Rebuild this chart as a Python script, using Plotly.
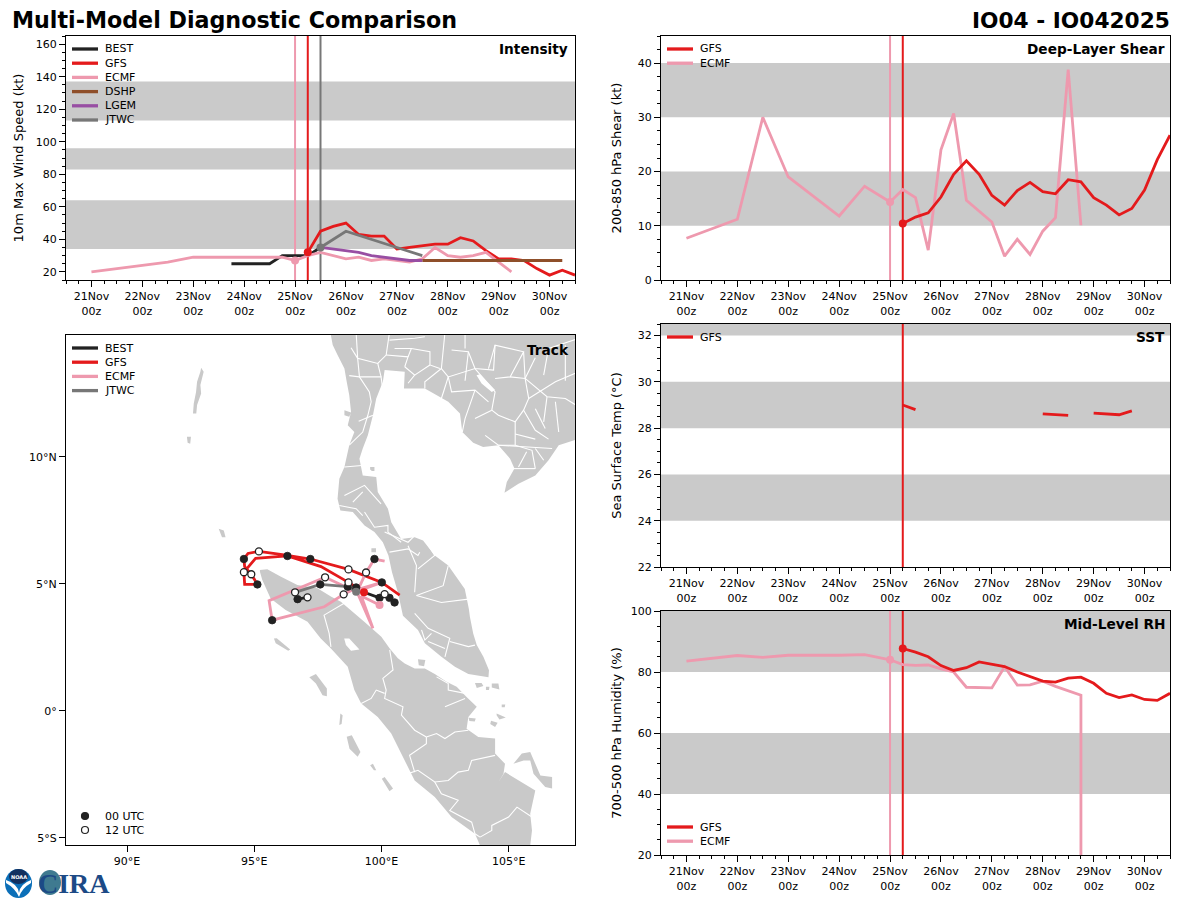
import plotly.graph_objects as go

FONT = "DejaVu Sans"
RED, PINK, BLACK, BROWN, PURPLE, GRAY = "#e41a1c", "#ee99ae", "#222222", "#8f4f2a", "#984ea3", "#777777"
BAND = "#cacaca"
LAND = "#c9c9c9"

# ---------- time axis ----------
days = [21, 22, 23, 24, 25, 26, 27, 28, 29, 30]
day_labels = ["21Nov<br>00z", "22Nov<br>00z", "23Nov<br>00z", "24Nov<br>00z", "25Nov<br>00z",
              "26Nov<br>00z", "27Nov<br>00z", "28Nov<br>00z", "29Nov<br>00z", "30Nov<br>00z"]

# ---------- intensity (kt) ----------
best_t = [23.75, 24, 24.25, 24.5, 24.75, 25, 25.25, 25.5]
best_v = [25, 25, 25, 25, 30, 30, 30, 35]
gfs_t = [25.25, 25.5, 25.75, 26, 26.25, 26.5, 26.75, 27, 27.25, 27.5, 27.75, 28, 28.25, 28.5, 28.75, 29, 29.25, 29.5, 29.75, 30, 30.25, 30.5]
gfs_v = [32, 45, 48, 50, 43, 42, 42, 34, 35, 36, 37, 37, 41, 39, 33, 28, 28, 27, 22, 18, 21, 18]
ecmf_i_t = [21, 22.5, 23, 24, 24.75, 25, 25.25, 25.5, 26, 26.25, 26.5, 26.75, 27.25, 27.5, 27.75, 28, 28.25, 28.5, 28.75, 29, 29.25]
ecmf_i_v = [20, 26, 29, 29, 29, 27, 30, 32, 28, 29, 27, 28, 26, 28, 35, 30, 29, 30, 32, 26, 20]
dshp_t = [27.5, 28, 28.5, 29, 29.5, 30, 30.25]
dshp_v = [27, 27, 27, 27, 27, 27, 27]
lgem_t = [25.5, 26, 26.25, 26.5, 26.75, 27, 27.25, 27.5]
lgem_v = [35, 33, 32, 30, 29, 28, 27, 27]
jtwc_t = [25.5, 26, 27, 27.5]
jtwc_v = [35, 45, 35, 30]
init_ecmf, init_gfs, init_jtwc = 25.0, 25.25, 25.5

# ---------- shear (kt) ----------
shear_ecmf_t = [21, 22, 22.5, 23, 24, 24.5, 25, 25.25, 25.5, 25.75, 26, 26.25, 26.5, 27, 27.25, 27.5, 27.75, 28, 28.25, 28.5, 28.75]
shear_ecmf_v = [7.7, 11.2, 30, 19, 11.8, 17.3, 14.4, 16.7, 15.2, 5.5, 24, 30.7, 14.7, 10.7, 4.4, 7.5, 4.7, 9, 11.5, 38.8, 10.1]
shear_gfs_v = [10.4, 11.6, 12.4, 15.3, 19.5, 22, 19.5, 15.6, 13.8, 16.5, 18, 16.3, 15.9, 18.5, 18.1, 15.2, 13.8, 12, 13.2, 16.6, 22.2, 26.7]

# ---------- SST (deg C), gaps are missing values ----------
sst_t = [25.25, 25.5, 25.75, 28, 28.5, 28.75, 29, 29.5, 29.75]
sst_v = [29.0, 28.8, None, 28.62, 28.55, None, 28.65, 28.58, 28.75]

# ---------- RH (%) ----------
rh_ecmf_t = [21, 22, 22.5, 23, 24, 24.5, 25, 25.25, 25.5, 25.75, 26, 26.25, 26.5, 27, 27.25, 27.5, 27.75, 28, 28.25, 28.5, 28.75, 28.75]
rh_ecmf_v = [83.6, 85.4, 84.8, 85.5, 85.5, 85.7, 84, 82.4, 82.2, 82.3, 81, 80, 75, 74.8, 81.7, 75.7, 75.8, 77, 75.3, 73.9, 72.4, 0]
rh_gfs_v = [87.7, 86.5, 85, 82.1, 80.5, 81.4, 83.3, 82.5, 81.8, 80, 78.5, 77, 76.7, 78, 78.3, 76.3, 73, 71.6, 72.5, 71, 70.7, 73]

# ---------- tracks ----------
track_gfs_lon = [99.31, 98.7, 97.62, 96.3, 95.05, 94.59, 94.62, 95.12, 95.0, 94.88, 94.62, 94.59, 94.75, 95.18, 96.17, 97.2, 98.7, 100.01, 100.71]
track_gfs_lat = [4.67, 5.06, 5.68, 6.1, 6.01, 5.46, 4.98, 4.98, 5.18, 5.38, 5.68, 5.98, 6.2, 6.28, 6.14, 5.98, 5.57, 5.06, 4.56]
track_ecmf_lon = [99.92, 99.2, 99.66, 99.0, 100.01, 99.0, 97.78, 95.58, 95.7, 97.75, 98.51, 99.13, 99.39, 99.72, 100.12]
track_ecmf_lat = [4.17, 4.52, 3.25, 4.76, 5.06, 4.69, 5.26, 4.34, 3.57, 4.1, 4.59, 4.89, 5.45, 5.98, 5.9]
track_jtwc_lon = [99.0, 98.67, 97.59, 96.6]
track_jtwc_lat = [4.69, 4.89, 4.98, 4.67]
track_best_lon = [100.51, 100.31, 100.12, 99.92, 99.31, 99.0, None, 96.7, 97.09]
track_best_lat = [4.27, 4.45, 4.6, 4.45, 4.67, 4.86, None, 4.4, 4.47]
marks00_lon = [100.51, 100.31, 99.92, 99.0, 98.67, 97.59, 96.7, 96.3, 95.12, 94.59, 97.2, 100.01, 95.7, 99.72]
marks00_lat = [4.27, 4.45, 4.45, 4.86, 4.89, 4.98, 4.4, 6.1, 4.98, 5.98, 5.98, 5.06, 3.57, 5.98]
marks12_lon = [100.12, 98.7, 94.59, 94.88, 95.18, 98.7, 97.78, 98.51, 99.39, 96.6, 97.09]
marks12_lat = [4.6, 5.06, 5.46, 5.38, 6.28, 5.57, 5.26, 4.59, 5.45, 4.67, 4.47]

# ---------- map outlines (lon, lat) ----------
mainland = [(97.95, 15.1), (98.08, 14.41), (98.27, 14.01), (98.54, 13.48), (98.63, 12.96), (98.73, 12.43), (98.8, 11.77),
            (98.67, 11.25), (98.93, 10.98), (98.73, 10.46), (98.54, 9.6), (98.34, 9.14), (98.27, 8.35), (98.38, 7.89),
            (98.87, 7.83), (99.33, 7.3), (99.72, 7.04), (100.05, 6.64), (100.27, 6.12), (100.41, 5.46), (100.64, 4.67),
            (100.77, 4.14), (100.84, 3.75), (101.43, 3.19), (101.7, 2.66), (102.35, 2.13), (102.88, 1.74), (103.41, 1.45),
            (104.2, 1.32), (104.22, 1.6), (104.0, 2.13), (103.74, 2.59), (103.6, 3.05), (103.47, 3.71), (103.43, 4.01),
            (103.27, 4.8), (102.62, 5.72), (102.09, 6.12), (101.63, 6.71), (101.3, 6.84), (100.77, 6.77), (100.38, 7.43),
            (100.25, 7.96), (99.85, 8.62), (99.79, 9.21), (99.26, 9.27), (99.13, 9.93), (99.26, 10.33), (99.46, 10.85),
            (99.66, 11.64), (99.79, 12.3), (100.05, 12.96), (100.12, 13.42), (100.91, 13.35), (100.88, 12.69), (101.7, 12.69),
            (102.35, 12.3), (102.62, 12.17), (103.08, 11.71), (103.17, 10.98), (103.6, 10.56), (103.99, 10.39), (104.59, 10.46),
            (105.05, 9.93), (105.22, 9.54), (104.92, 9.01), (104.83, 8.59), (105.38, 8.94), (106.04, 9.27), (106.56, 9.87),
            (106.96, 10.46), (107.75, 10.72), (109.0, 10.72), (109.0, 15.1)]
sumatra = [(95.22, 5.48), (95.22, 5.55), (95.51, 5.58), (96.03, 5.29), (96.69, 4.96), (97.48, 4.83), (98.01, 4.5), (98.4, 4.3),
           (99.32, 3.51), (99.72, 3.18), (99.99, 2.92), (100.32, 2.46), (100.64, 2.07), (100.91, 1.87), (101.3, 1.67), (101.7, 1.67),
           (102.09, 1.45), (102.55, 1.15), (102.95, 0.95), (103.34, 0.55),
           (103.74, 0.16), (103.41, -0.24), (103.34, -0.7), (103.8, -1.03), (104.46, -1.09), (104.46, -1.68), (104.85, -2.08),
           (104.79, -2.47), (104.59, -2.8), (104.85, -2.41), (106.04, -3.13), (105.84, -4.05), (105.91, -4.71), (105.84, -5.3),
           (105.84, -6.16), (103.8, -6.16), (103.87, -5.3), (103.67, -4.84), (102.75, -4.18), (102.09, -3.39), (101.3, -2.74),
           (100.91, -1.95), (100.38, -0.89), (99.85, -0.24), (99.2, 0.29), (98.93, 0.82), (98.67, 1.74), (98.01, 2.46), (97.61, 2.85),
           (97.09, 3.51), (96.23, 3.97), (95.64, 4.43), (95.31, 5.16)]
islands = [
    [(92.91, 13.51), (93.01, 13.35), (92.88, 12.83), (92.91, 12.5), (92.75, 12.04), (92.72, 11.71), (92.59, 11.71), (92.62, 12.1), (92.71, 12.56), (92.75, 12.96), (92.88, 13.35)],
    [(92.35, 10.79), (92.51, 10.79), (92.48, 10.52), (92.38, 10.56)],
    [(93.6, 7.17), (93.8, 7.1), (93.87, 6.84), (93.73, 6.84)],
    [(95.77, 2.85), (95.88, 2.86), (96.41, 2.42), (96.33, 2.37), (95.84, 2.66)],
    [(97.16, 1.32), (97.42, 1.45), (97.85, 0.88), (97.85, 0.58), (97.68, 0.62), (97.42, 1.08)],
    [(98.38, -0.1), (98.47, -0.17), (98.43, -0.52), (98.34, -0.56)],
    [(98.63, -1.02), (98.83, -0.96), (99.17, -1.62), (99.06, -1.81), (98.74, -1.49)],
    [(99.55, -2.14), (99.66, -2.08), (99.79, -2.34), (99.7, -2.34)],
    [(100.01, -2.67), (100.12, -2.6), (100.45, -3.06), (100.31, -3.16)],
    [(105.18, -2.08), (105.51, -1.68), (105.84, -1.62), (106.1, -2.2), (106.24, -2.54), (106.7, -2.6), (106.7, -3.06), (106.43, -3.0), (105.97, -2.47), (105.84, -1.95), (105.58, -1.95)],
    [(104.52, -0.1), (104.88, -0.26), (104.63, -0.34), (104.52, -0.17)],
    [(104.3, -0.39), (104.56, -0.47), (104.46, -0.63), (104.27, -0.52)],
    [(104.33, 1.08), (104.59, 1.08), (104.63, 0.84), (104.33, 0.92)],
    [(103.67, 1.1), (103.93, 1.1), (104.0, 0.98), (103.74, 0.9)],
    [(101.43, 2.03), (101.72, 2.0), (101.67, 1.76), (101.46, 1.8)],
    [(98.54, 11.84), (98.8, 11.75), (98.73, 11.58), (98.54, 11.64)],
    [(103.42, -0.27), (103.7, -0.3), (103.66, -0.42), (103.45, -0.4)],
    [(104.1, 0.95), (104.24, 0.95), (104.22, 0.82), (104.1, 0.82)],
    [(104.72, 0.25), (104.86, 0.25), (104.84, 0.14), (104.72, 0.14)],
    [(99.55, 9.6), (99.72, 9.6), (99.72, 9.45), (99.55, 9.45)],
    [(99.6, 6.4), (99.78, 6.4), (99.78, 6.25), (99.6, 6.25)],
]
lakes = [
    [(98.53, 2.85), (98.73, 2.85), (99.13, 2.42), (98.8, 2.37), (98.6, 2.59)],
    [(103.73, 13.22), (103.87, 13.25), (104.46, 12.63), (104.33, 12.56), (103.93, 12.89)],
]
borders = [
    [(99.0, 14.9), (99.06, 13.88), (99.85, 13.68), (100.18, 14.01), (100.31, 14.9)],
    [(99.06, 13.88), (99.13, 13.15), (99.98, 13.15), (100.05, 12.63)],
    [(99.13, 13.15), (99.52, 12.56), (99.59, 12.17), (99.46, 11.64), (99.26, 10.98), (98.73, 10.46)],
    [(100.18, 14.01), (101.04, 13.94), (100.91, 13.55)],
    [(100.31, 14.6), (101.3, 14.67), (101.7, 14.73)],
    [(100.51, 14.27), (101.17, 14.27), (101.9, 14.14), (101.9, 13.62), (102.29, 13.48)],
    [(102.49, 14.9), (102.35, 13.48), (102.62, 13.15), (103.67, 13.48), (104.46, 12.56), (104.33, 11.84)],
    [(102.75, 14.21), (103.41, 14.14), (103.67, 13.48), (104.4, 13.42), (104.46, 14.4), (105.58, 14.14), (105.05, 13.15), (104.46, 13.09)],
    [(103.28, 14.9), (103.28, 14.27)],
    [(105.58, 14.14), (105.64, 13.09), (105.05, 13.15)],
    [(105.64, 13.09), (106.5, 12.37), (107.22, 12.3), (107.75, 11.97)],
    [(105.64, 13.09), (105.78, 12.3), (105.58, 11.84), (105.25, 11.38), (104.59, 11.64), (104.33, 11.84)],
    [(102.62, 13.15), (102.75, 12.56), (103.67, 12.63), (104.2, 12.17)],
    [(102.62, 13.15), (102.35, 12.3)],
    [(103.67, 12.63), (103.28, 11.51), (103.17, 10.98)],
    [(103.67, 11.51), (104.33, 11.84)],
    [(105.78, 12.3), (106.83, 12.96), (107.75, 13.35)],
    [(106.56, 14.27), (107.75, 14.67)],
    [(106.56, 14.27), (106.37, 13.22)],
    [(105.25, 11.38), (105.25, 10.46), (104.59, 10.46), (104.07, 10.85)],
    [(104.59, 10.46), (106.7, 10.33)],
    [(105.25, 10.46), (105.91, 10.26), (106.04, 9.54)],
    [(105.05, 9.54), (106.04, 9.54)],
    [(106.04, 11.9), (106.43, 11.12)],
    [(106.83, 12.17), (106.96, 10.98)],
    [(100.91, 13.55), (101.3, 13.22), (101.04, 12.9)],
    [(101.3, 13.22), (101.9, 13.62)],
    [(101.17, 14.27), (101.04, 13.94)],
    [(103.41, 14.14), (103.28, 13.0)],
    [(104.46, 14.4), (104.2, 13.48)],
    [(102.35, 13.48), (101.7, 12.96), (101.7, 12.69)],
    [(106.04, 13.9), (105.64, 13.09)],
    [(107.22, 14.4), (107.22, 13.0)],
    [(106.5, 12.37), (106.37, 11.38)],
    [(105.58, 11.84), (106.04, 11.05), (106.56, 10.7)],
    [(105.25, 10.9), (106.04, 10.7)],
    [(106.04, 10.33), (106.37, 9.87)],
    [(105.38, 9.6), (105.7, 10.2)],
    [(99.85, 13.68), (99.98, 13.15)],
    [(99.66, 11.64), (99.1, 11.4)],
    [(98.73, 13.2), (99.13, 13.15)],
    [(98.8, 14.3), (99.06, 13.88)],
    [(98.54, 9.6), (99.33, 9.67), (99.85, 9.21)],
    [(98.54, 8.48), (99.33, 8.88), (99.98, 8.15)],
    [(98.87, 8.22), (99.26, 8.62)],
    [(98.34, 8.09), (99.0, 7.96), (99.26, 7.69)],
    [(99.33, 7.83), (99.72, 7.23), (100.25, 7.3), (100.25, 7.04), (100.77, 6.64)],
    [(100.12, 7.04), (101.04, 6.64), (101.3, 6.9)],
    [(100.31, 6.25), (101.04, 6.38), (101.43, 6.12), (101.5, 6.25)],
    [(101.04, 6.5), (101.37, 5.72), (101.3, 4.67)],
    [(101.63, 6.84), (102.09, 6.12), (101.43, 5.59)],
    [(102.62, 5.72), (102.42, 4.93), (101.37, 4.54)],
    [(101.37, 4.54), (102.35, 4.27), (103.41, 4.4)],
    [(101.3, 3.84), (101.83, 3.25), (102.68, 2.86), (102.49, 2.13)],
    [(101.57, 3.19), (101.7, 2.79), (101.96, 3.05)],
    [(101.83, 2.73), (102.49, 2.46)],
    [(102.68, 2.73), (103.41, 2.53), (103.67, 2.59)],
    [(98.53, 4.24), (97.74, 3.77), (97.94, 3.05), (98.01, 2.52)],
    [(100.32, 2.4), (100.45, 1.61), (100.05, 1.28), (100.18, 0.82), (100.12, 0.49), (100.84, 0.16), (100.78, -0.17), (101.3, -0.76), (101.76, -1.03)],
    [(99.2, 0.29), (99.59, 0.49), (99.79, 0.82), (100.12, 0.69)],
    [(101.76, -1.03), (101.76, -1.29), (101.1, -1.75), (101.3, -2.41)],
    [(101.76, -1.03), (102.16, -0.89), (102.49, -1.09), (102.88, -0.83), (103.41, -0.76)],
    [(101.04, -2.47), (101.43, -2.34), (102.09, -2.8), (102.62, -2.74), (103.01, -2.41), (103.41, -2.34), (103.54, -1.95), (104.46, -1.75)],
    [(102.09, -2.8), (102.35, -3.26), (103.01, -3.52), (102.68, -3.92), (103.54, -4.38), (103.67, -4.84), (103.87, -4.97)],
    [(103.87, -4.97), (104.33, -4.71), (104.33, -4.51), (104.99, -4.18), (105.32, -3.79), (105.91, -4.18)],
    [(102.49, 0.16), (103.28, 0.49)],
    [(102.16, 1.34), (102.62, 1.08), (102.62, 0.82), (103.28, 0.69)],
]

lon_ticks = [90, 95, 100, 105]
lon_labels = ["90°E", "95°E", "100°E", "105°E"]
lat_ticks = [-5, 0, 5, 10]
lat_labels = ["5°S", "0°", "5°N", "10°N"]


def path(rings):
    xs, ys = [], []
    for ring in rings:
        xs += [p[0] for p in ring] + [None]
        ys += [p[1] for p in ring] + [None]
    return xs, ys


W, H = 1200.0, 900.0
px = lambda v: v / W
py = lambda v: 1 - v / H

fig = go.Figure()
shapes, notes = [], []


def line_trace(x, y, color, xa, ya, width=2.8):
    fig.add_trace(go.Scatter(x=x, y=y, mode="lines", line=dict(color=color, width=width),
                             connectgaps=False, xaxis=xa, yaxis=ya, showlegend=False, hoverinfo="skip"))


def dot(x, y, color, xa, ya, size=8):
    fig.add_trace(go.Scatter(x=[x], y=[y], mode="markers", marker=dict(color=color, size=size),
                             xaxis=xa, yaxis=ya, showlegend=False, hoverinfo="skip"))


def text(x, y, s, size=11, bold=False, anchor="left", family=FONT, color="black", ya="middle"):
    notes.append(dict(x=px(x), y=py(y), xref="paper", yref="paper", text=f"<b>{s}</b>" if bold else s,
                      showarrow=False, xanchor=anchor, yanchor=ya, font=dict(family=family, size=size, color=color),
                      borderpad=0, borderwidth=0))


def legend(x, y0, items):
    for i, (name, color) in enumerate(items):
        y = y0 + i * 14.2
        shapes.append(dict(type="line", xref="paper", yref="paper", x0=px(x), x1=px(x + 26), y0=py(y), y1=py(y),
                           line=dict(color=color, width=3.3)))
        text(x + 33, y, name, 11)


def bands(ya, ranges):
    for lo, hi in ranges:
        shapes.append(dict(type="rect", xref=f"x{ya} domain".replace("x1 ", "x "), yref=f"y{ya}".replace("y1", "y"),
                           x0=0, x1=1, y0=lo, y1=hi, fillcolor=BAND, line=dict(width=0), layer="below"))


def vline(ya, x, color):
    shapes.append(dict(type="line", xref=f"x{ya}".replace("x1", "x"), yref=f"y{ya} domain".replace("y1 ", "y "),
                       x0=x, x1=x, y0=0, y1=1, line=dict(color=color, width=2), layer="below"))


def axes(n, left, right, top, bottom, yr, ydt, ymin, title, standoff):
    xk, yk = ("xaxis", "yaxis") if n == 1 else (f"xaxis{n}", f"yaxis{n}")
    fig.layout[xk] = dict(domain=[px(left), px(right)], range=[20.5, 30.5], anchor=yk.replace("axis", ""),
                          tickmode="array", tickvals=days, ticktext=day_labels, ticks="outside", ticklen=6, tickwidth=1,
                          minor=dict(dtick=0.25, tick0=21, ticks="outside", ticklen=3, tickwidth=1, tickcolor="black"),
                          showline=True, linecolor="black", linewidth=1, mirror=True, showgrid=False, zeroline=False,
                          tickfont=dict(family=FONT, size=11, color="black"), tickcolor="black", fixedrange=True)
    fig.layout[yk] = dict(domain=[py(bottom), py(top)], range=yr, anchor=xk.replace("axis", ""),
                          dtick=ydt, tick0=0, ticks="outside", ticklen=6, tickwidth=1,
                          minor=dict(dtick=ymin, tick0=0, ticks="outside", ticklen=3, tickwidth=1, tickcolor="black"),
                          showline=True, linecolor="black", linewidth=1, mirror=True, showgrid=False, zeroline=False,
                          tickfont=dict(family=FONT, size=11, color="black"), tickcolor="black", fixedrange=True,
                          title=dict(text=title, font=dict(family=FONT, size=13, color="black"), standoff=standoff))


# layout panels: 1 intensity, 2 shear, 3 SST, 4 RH, 5 track
axes(1, 66, 575, 36, 280, [15, 165], 20, 5, "10m Max Wind Speed (kt)", 9)
axes(2, 661, 1170, 36, 280, [0, 45], 10, 2.5, "200-850 hPa Shear (kt)", 13)
axes(3, 661, 1170, 324, 567, [22, 32.5], 2, 0.5, "Sea Surface Temp (°C)", 13)
axes(4, 661, 1170, 611, 855, [20, 100], 20, 5, "700-500 hPa Humidity (%)", 6)
fig.layout["xaxis5"] = dict(domain=[px(66), px(575)], range=[87.6, 107.6], anchor="y5", tickmode="array",
                            tickvals=lon_ticks, ticktext=lon_labels, ticks="outside", ticklen=6, tickcolor="black",
                            showline=True, linecolor="black", linewidth=1, mirror=True, showgrid=False, zeroline=False,
                            tickfont=dict(family=FONT, size=11, color="black"), fixedrange=True)
fig.layout["yaxis5"] = dict(domain=[py(845), py(335)], range=[-5.28, 14.8], anchor="x5", tickmode="array",
                            tickvals=lat_ticks, ticktext=lat_labels, ticks="outside", ticklen=6, tickcolor="black",
                            showline=True, linecolor="black", linewidth=1, mirror=True, showgrid=False, zeroline=False,
                            tickfont=dict(family=FONT, size=11, color="black"), fixedrange=True)

# Intensity
bands(1, [(34, 64), (83, 96), (113, 137)])
for x, c in [(init_ecmf, PINK), (init_gfs, RED), (init_jtwc, GRAY)]:
    vline(1, x, c)
line_trace(best_t, best_v, BLACK, "x", "y")
line_trace(gfs_t, gfs_v, RED, "x", "y")
line_trace(ecmf_i_t, ecmf_i_v, PINK, "x", "y")
line_trace(dshp_t, dshp_v, BROWN, "x", "y")
line_trace(lgem_t, lgem_v, PURPLE, "x", "y")
line_trace(jtwc_t, jtwc_v, GRAY, "x", "y")
dot(init_ecmf, ecmf_i_v[ecmf_i_t.index(init_ecmf)], PINK, "x", "y")
dot(init_gfs, gfs_v[0], RED, "x", "y")
dot(init_jtwc, jtwc_v[0], GRAY, "x", "y")
legend(72, 49, [("BEST", BLACK), ("GFS", RED), ("ECMF", PINK), ("DSHP", BROWN), ("LGEM", PURPLE), ("JTWC", GRAY)])
text(568, 49, "Intensity", 13.7, True, "right")

# Shear
bands(2, [(10, 20), (30, 40)])
vline(2, init_ecmf, PINK); vline(2, init_gfs, RED)
line_trace(shear_ecmf_t, shear_ecmf_v, PINK, "x2", "y2")
line_trace(gfs_t, shear_gfs_v, RED, "x2", "y2")
dot(init_ecmf, shear_ecmf_v[shear_ecmf_t.index(init_ecmf)], PINK, "x2", "y2")
dot(init_gfs, shear_gfs_v[0], RED, "x2", "y2")
legend(667, 49, [("GFS", RED), ("ECMF", PINK)])
text(1165, 49, "Deep-Layer Shear", 13.7, True, "right")

# SST
bands(3, [(24, 26), (28, 30), (32, 32.5)])
vline(3, init_gfs, RED)
line_trace(sst_t, sst_v, RED, "x3", "y3")
legend(667, 337, [("GFS", RED)])
text(1165, 337, "SST", 13.7, True, "right")

# RH
bands(4, [(40, 60), (80, 100)])
vline(4, init_ecmf, PINK); vline(4, init_gfs, RED)
line_trace(rh_ecmf_t, rh_ecmf_v, PINK, "x4", "y4")
line_trace(gfs_t, rh_gfs_v, RED, "x4", "y4")
dot(init_ecmf, rh_ecmf_v[rh_ecmf_t.index(init_ecmf)], PINK, "x4", "y4")
dot(init_gfs, rh_gfs_v[0], RED, "x4", "y4")
legend(667, 827, [("GFS", RED), ("ECMF", PINK)])
text(1165, 624, "Mid-Level RH", 13.7, True, "right")

# Track map
lx, ly = path([mainland, sumatra] + islands)
fig.add_trace(go.Scatter(x=lx, y=ly, mode="lines", fill="toself", fillcolor=LAND, line=dict(width=0, color=LAND),
                         xaxis="x5", yaxis="y5", showlegend=False, hoverinfo="skip"))
lx, ly = path(lakes)
fig.add_trace(go.Scatter(x=lx, y=ly, mode="lines", fill="toself", fillcolor="white", line=dict(width=0, color="white"),
                         xaxis="x5", yaxis="y5", showlegend=False, hoverinfo="skip"))
lx, ly = path(borders)
line_trace(lx, ly, "white", "x5", "y5", width=1.1)
line_trace(track_best_lon, track_best_lat, BLACK, "x5", "y5")
line_trace(track_gfs_lon, track_gfs_lat, RED, "x5", "y5")
line_trace(track_ecmf_lon, track_ecmf_lat, PINK, "x5", "y5")
line_trace(track_jtwc_lon, track_jtwc_lat, GRAY, "x5", "y5")
fig.add_trace(go.Scatter(x=marks00_lon, y=marks00_lat, mode="markers", xaxis="x5", yaxis="y5", showlegend=False,
                         hoverinfo="skip", marker=dict(size=7.5, color=BLACK, line=dict(color=BLACK, width=0.8))))
fig.add_trace(go.Scatter(x=marks12_lon, y=marks12_lat, mode="markers", xaxis="x5", yaxis="y5", showlegend=False,
                         hoverinfo="skip", marker=dict(size=7, color="white", line=dict(color=BLACK, width=1.3))))
dot(track_ecmf_lon[0], track_ecmf_lat[0], PINK, "x5", "y5")
dot(track_gfs_lon[0], track_gfs_lat[0], RED, "x5", "y5")
dot(track_jtwc_lon[0], track_jtwc_lat[0], GRAY, "x5", "y5")
legend(72, 348, [("BEST", BLACK), ("GFS", RED), ("ECMF", PINK), ("JTWC", GRAY)])
text(569, 350, "Track", 13.7, True, "right")
# 00/12 UTC key
for y, s, fill in [(816, "00 UTC", BLACK), (830, "12 UTC", "white")]:
    shapes.append(dict(type="circle", xref="paper", yref="paper", x0=px(81.5), x1=px(88.5), y0=py(y + 3.5), y1=py(y - 3.5),
                       fillcolor=fill, line=dict(color=BLACK, width=1.2)))
    text(105, y, s, 11)

# Titles
text(12, 20, "Multi-Model Diagnostic Comparison", 22.2, True)
text(1170, 20, "IO04 - IO042025", 21.7, True, "right")

# Logo
shapes += [
    dict(type="circle", xref="paper", yref="paper", x0=px(5), x1=px(32), y0=py(898), y1=py(869), fillcolor="#0b6fb8", line=dict(width=0)),
    dict(type="circle", xref="paper", yref="paper", x0=px(9), x1=px(28), y0=py(884), y1=py(869), fillcolor="#12305f", line=dict(width=0)),
    dict(type="path", xref="paper", yref="paper",
         path=f"M {px(6)} {py(880)} Q {px(18)} {py(884)} {px(19)} {py(893)} Q {px(20)} {py(884)} {px(31)} {py(880)} L {px(31)} {py(883)} Q {px(22)} {py(888)} {px(19)} {py(897)} Q {px(15)} {py(888)} {px(6)} {py(883)} Z",
         fillcolor="white", line=dict(width=0)),
    dict(type="circle", xref="paper", yref="paper", x0=px(39), x1=px(61), y0=py(895), y1=py(870), fillcolor="#3f7a90", line=dict(width=0)),
]
text(38, 883, "CIRA", 28, True, "left", family="Liberation Serif", color="#1c4a86")
text(19, 877, "NOAA", 5, True, "center", color="white")

fig.update_layout(width=1200, height=900, autosize=False, margin=dict(l=0, r=0, t=0, b=0, autoexpand=False), paper_bgcolor="white",
                  plot_bgcolor="white", showlegend=False, shapes=shapes, annotations=notes, font=dict(family=FONT))
fig.write_html("out.html", config={"displayModeBar": False},
               post_script="document.body.style.margin='0';")
